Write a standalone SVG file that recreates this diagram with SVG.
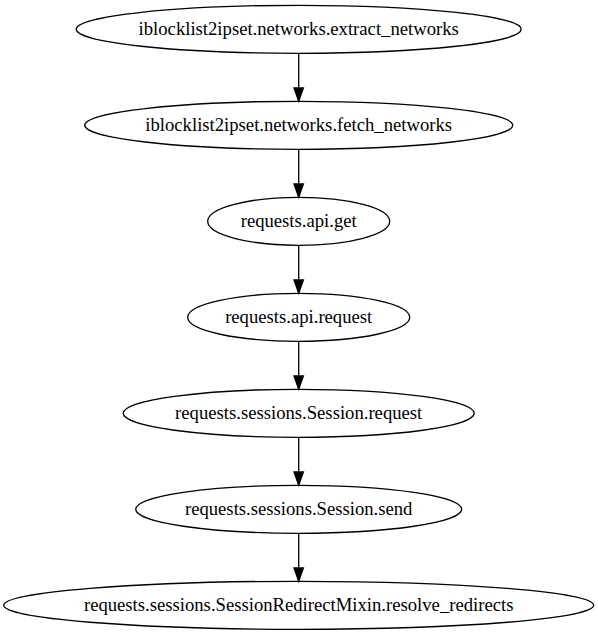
<svg xmlns="http://www.w3.org/2000/svg" width="598" height="635" viewBox="0 0 598 635">
<defs>
<style>
.n ellipse{fill:none;stroke:#000;stroke-width:1.33}
.n text{font-family:"Liberation Serif","Times New Roman",serif;font-size:18.67px;text-anchor:middle;fill:#000}
.e line{stroke:#000;stroke-width:1.33}
.e polygon{fill:#000;stroke:#000;stroke-width:1.33}
</style>
</defs>
<rect width="598" height="635" fill="#fff"/>
<g id="edges" class="e">
<line x1="298.7" y1="53.3" x2="298.7" y2="88"/><polygon points="294,88 303.4,88 298.7,101.3"/>
<line x1="298.7" y1="149.3" x2="298.7" y2="184"/><polygon points="294,184 303.4,184 298.7,197.3"/>
<line x1="298.7" y1="245.3" x2="298.7" y2="280"/><polygon points="294,280 303.4,280 298.7,293.3"/>
<line x1="298.7" y1="341.3" x2="298.7" y2="376"/><polygon points="294,376 303.4,376 298.7,389.3"/>
<line x1="298.7" y1="437.3" x2="298.7" y2="472"/><polygon points="294,472 303.4,472 298.7,485.3"/>
<line x1="298.7" y1="533.3" x2="298.7" y2="568"/><polygon points="294,568 303.4,568 298.7,581.3"/>
</g>
<g id="node1" class="n"><ellipse cx="298.7" cy="29.3" rx="222.5" ry="24"/><text x="298.7" y="35">iblocklist2ipset.networks.extract_networks</text></g>
<g id="node2" class="n"><ellipse cx="298.7" cy="125.3" rx="214" ry="24"/><text x="298.7" y="131">iblocklist2ipset.networks.fetch_networks</text></g>
<g id="node3" class="n"><ellipse cx="298.7" cy="221.3" rx="91" ry="24"/><text x="298.7" y="227">requests.api.get</text></g>
<g id="node4" class="n"><ellipse cx="298.7" cy="317.3" rx="111" ry="24"/><text x="298.7" y="323">requests.api.request</text></g>
<g id="node5" class="n"><ellipse cx="298.7" cy="413.3" rx="175.5" ry="24"/><text x="298.7" y="419">requests.sessions.Session.request</text></g>
<g id="node6" class="n"><ellipse cx="298.7" cy="509.3" rx="163" ry="24"/><text x="298.7" y="515">requests.sessions.Session.send</text></g>
<g id="node7" class="n"><ellipse cx="298.7" cy="605.3" rx="295" ry="24"/><text x="298.7" y="611">requests.sessions.SessionRedirectMixin.resolve_redirects</text></g>
</svg>
